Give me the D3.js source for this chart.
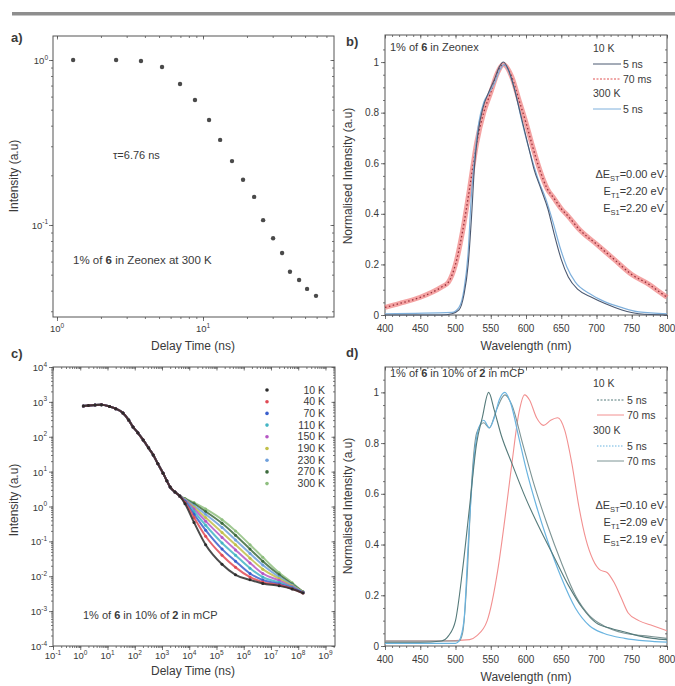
<!DOCTYPE html>
<html>
<head>
<meta charset="utf-8">
<script src="https://cdnjs.cloudflare.com/ajax/libs/d3/7.8.5/d3.min.js"></script>
<style>
body { margin: 0; background: #fff; }
svg { display: block; font-family: "Liberation Sans", Arial, sans-serif; }
text { fill: #3a3a3a; }
.tick line { stroke: #555; }
</style>
</head>
<body>
<div id="fig"></div>
<script>
// ---------- data ----------
// a) decay, 1% of 6 in Zeonex at 300 K
var aTime = [1.29, 2.54, 3.76, 5.24, 6.96, 8.81, 11.0, 13.1, 15.8, 18.8, 22.4, 25.8, 30.2, 34.8, 39.4, 45.5, 51.6, 59.4];
var aInt  = [1.0, 1.0, 0.986, 0.907, 0.715, 0.572, 0.433, 0.328, 0.244, 0.188, 0.148, 0.107, 0.0831, 0.0676, 0.0521, 0.0464, 0.041, 0.0372];

// b) spectra, 1% of 6 in Zeonex
var bWl10K5ns  = [400, 480, 495, 505, 512, 518, 523, 527, 532, 539, 547, 555, 562, 568, 575, 583, 590, 597, 604, 611, 621, 631, 640, 650, 660, 674, 693, 712, 736, 760, 800];
var bInt10K5ns = [0, 0, 0.005, 0.02, 0.08, 0.2, 0.4, 0.59, 0.72, 0.82, 0.88, 0.93, 0.98, 1.0, 0.97, 0.9, 0.82, 0.74, 0.66, 0.58, 0.5, 0.42, 0.32, 0.22, 0.15, 0.1, 0.07, 0.045, 0.02, 0.005, 0];
var bWl300K5ns  = [400, 495, 505, 512, 518, 522, 527, 533, 540, 548, 556, 563, 569, 576, 585, 593, 600, 608, 618, 628, 638, 648, 658, 670, 690, 710, 735, 760, 800];
var bInt300K5ns = [0.005, 0.01, 0.03, 0.1, 0.25, 0.45, 0.62, 0.76, 0.84, 0.88, 0.92, 0.97, 0.99, 0.96, 0.88, 0.78, 0.7, 0.62, 0.53, 0.46, 0.37, 0.27, 0.19, 0.13, 0.085, 0.055, 0.03, 0.012, 0.005];
var bWl10K70ms  = [400, 420, 450, 480, 490, 500, 510, 520, 530, 540, 550, 560, 568, 580, 590, 600, 610, 620, 630, 640, 650, 660, 675, 700, 725, 750, 775, 790, 800];
var bInt10K70ms = [0.03, 0.045, 0.07, 0.11, 0.13, 0.2, 0.33, 0.5, 0.68, 0.8, 0.88, 0.96, 0.99, 0.94, 0.85, 0.76, 0.66, 0.57, 0.5, 0.46, 0.42, 0.39, 0.34, 0.28, 0.22, 0.16, 0.12, 0.09, 0.07];

// c) decays vs temperature, 1% of 6 in 10% of 2 in mCP
var cTemps  = ["10 K", "40 K", "70 K", "110 K", "150 K", "190 K", "230 K", "270 K", "300 K"];
var cColors = ["#2b2b2b", "#e04a55", "#3a5fcd", "#44b5c4", "#b657c4", "#c2c04a", "#6fa0dc", "#3d6b3d", "#8fbf7f"];
var cEarlyTime = [1.3, 2, 3.5, 6, 12, 20, 37, 60, 87, 130, 204, 320, 478, 700, 1100, 1500, 2000, 3000, 4500];
var cEarlyInt  = [760, 790, 820, 830, 740, 640, 480, 300, 190, 130, 81, 48, 30, 17, 9, 5.5, 3.6, 2.6, 2.0];
var cLateTime = [7e3, 1.5e4, 4e4, 1.6e5, 5e5, 1.7e6, 5e6, 2e7, 6e7, 1.5e8];
var cLate10K  = [1.2, 0.35, 0.08, 0.022, 0.011, 0.0079, 0.0062, 0.0053, 0.0043, 0.0033];
var cLate40K  = [1.3, 0.48, 0.14, 0.04, 0.018, 0.0095, 0.0068, 0.0056, 0.0044, 0.0033];
var cLate70K  = [1.4, 0.6, 0.21, 0.06, 0.027, 0.012, 0.0078, 0.006, 0.0046, 0.0034];
var cLate110K = [1.45, 0.72, 0.29, 0.09, 0.04, 0.017, 0.0095, 0.0066, 0.0048, 0.0034];
var cLate150K = [1.5, 0.85, 0.38, 0.13, 0.057, 0.024, 0.012, 0.0075, 0.005, 0.0034];
var cLate190K = [1.55, 0.95, 0.48, 0.18, 0.08, 0.033, 0.016, 0.0085, 0.0053, 0.0035];
var cLate230K = [1.6, 1.05, 0.6, 0.25, 0.11, 0.045, 0.021, 0.0095, 0.0056, 0.0035];
var cLate270K = [1.65, 1.2, 0.72, 0.33, 0.15, 0.06, 0.027, 0.011, 0.006, 0.0036];
var cLate300K = [1.7, 1.3, 0.85, 0.42, 0.2, 0.08, 0.035, 0.0126, 0.0065, 0.0035];

// d) spectra, 1% of 6 in 10% of 2 in mCP
var dWl10K5ns  = [400, 450, 480, 490, 500, 510, 520, 530, 538, 547, 555, 565, 580, 600, 620, 640, 660, 680, 700, 720, 740, 760, 780, 800];
var dInt10K5ns = [0.015, 0.015, 0.02, 0.04, 0.1, 0.3, 0.55, 0.8, 0.9, 1.0, 0.93, 0.83, 0.72, 0.58, 0.46, 0.35, 0.24, 0.15, 0.09, 0.07, 0.055, 0.04, 0.03, 0.025];
var dWl10K70ms  = [400, 480, 520, 530, 545, 560, 570, 580, 590, 598, 605, 615, 625, 635, 645, 655, 665, 675, 685, 695, 705, 715, 725, 735, 745, 760, 780, 800];
var dInt10K70ms = [0.02, 0.02, 0.025, 0.04, 0.1, 0.3, 0.5, 0.72, 0.92, 0.99, 0.97, 0.9, 0.87, 0.89, 0.9, 0.85, 0.72, 0.55, 0.42, 0.34, 0.3, 0.29, 0.25, 0.19, 0.13, 0.1, 0.08, 0.06];
var dWl300K5ns  = [400, 500, 505, 512, 518, 525, 532, 540, 548, 555, 562, 570, 578, 590, 600, 615, 630, 650, 670, 690, 710, 740, 770, 800];
var dInt300K5ns = [0.01, 0.01, 0.02, 0.1, 0.4, 0.7, 0.85, 0.89, 0.86, 0.9, 0.97, 1.0, 0.96, 0.82, 0.7, 0.55, 0.42, 0.27, 0.15, 0.08, 0.05, 0.03, 0.02, 0.015];
var dWl300K70ms  = [400, 505, 510, 517, 522, 530, 540, 548, 558, 570, 580, 595, 610, 630, 650, 670, 690, 710, 740, 770, 800];
var dInt300K70ms = [0.02, 0.02, 0.05, 0.3, 0.6, 0.84, 0.88, 0.86, 0.93, 0.99, 0.95, 0.8, 0.65, 0.48, 0.33, 0.2, 0.12, 0.08, 0.05, 0.04, 0.03];

// ---------- drawing ----------
var svg = d3.select("#fig").append("svg").attr("width", 675).attr("height", 686);

// gray rule at the top
svg.append("rect").attr("x", 12).attr("y", 12).attr("width", 663).attr("height", 3.5).attr("fill", "#8e8e8e");

function zip(xs, ys) {
    return xs.map(function (v, i) { return [v, ys[i]]; });
}

function logMinor(scale) {
    var d = scale.domain(), lo = Math.min(d[0], d[1]), hi = Math.max(d[0], d[1]);
    var out = [];
    for (var k = Math.floor(Math.log10(lo)); k <= Math.ceil(Math.log10(hi)); k++) {
        for (var m = 1; m < 10; m++) {
            var v = m * Math.pow(10, k);
            if (v >= lo && v <= hi) out.push(v);
        }
    }
    return out;
}

function tidy(g) {
    g.select(".domain").remove();
    g.selectAll(".tick line").attr("stroke", "#555").attr("stroke-width", 0.8);
}

// frame plus mirrored ticks on all four sides
function frame(x, y, xMaj, xMin, yMaj, yMin) {
    var x0 = x.range()[0], x1 = x.range()[1], yb = y.range()[0], yt = y.range()[1];
    svg.append("g").attr("transform", "translate(0," + yb + ")")
        .call(d3.axisBottom(x).tickValues(xMin).tickSize(2).tickFormat("")).call(tidy);
    svg.append("g").attr("transform", "translate(0," + yb + ")")
        .call(d3.axisBottom(x).tickValues(xMaj).tickSize(4).tickFormat("")).call(tidy);
    svg.append("g").attr("transform", "translate(0," + yt + ")")
        .call(d3.axisTop(x).tickValues(xMin).tickSize(-2).tickFormat("")).call(tidy);
    svg.append("g").attr("transform", "translate(0," + yt + ")")
        .call(d3.axisTop(x).tickValues(xMaj).tickSize(-3.5).tickFormat("")).call(tidy);
    svg.append("g").attr("transform", "translate(" + x0 + ",0)")
        .call(d3.axisLeft(y).tickValues(yMin).tickSize(2).tickFormat("")).call(tidy);
    svg.append("g").attr("transform", "translate(" + x0 + ",0)")
        .call(d3.axisLeft(y).tickValues(yMaj).tickSize(4).tickFormat("")).call(tidy);
    svg.append("g").attr("transform", "translate(" + x1 + ",0)")
        .call(d3.axisRight(y).tickValues(yMin).tickSize(-2).tickFormat("")).call(tidy);
    svg.append("g").attr("transform", "translate(" + x1 + ",0)")
        .call(d3.axisRight(y).tickValues(yMaj).tickSize(-3.5).tickFormat("")).call(tidy);
    svg.append("rect").attr("x", x0).attr("y", yt).attr("width", x1 - x0).attr("height", yb - yt)
        .attr("fill", "none").attr("stroke", "#555").attr("stroke-width", 1);
}

function powText(x, y, exp, anchor) {
    var t = svg.append("text").attr("x", x).attr("y", y).attr("text-anchor", anchor).attr("font-size", 9.5);
    t.append("tspan").text("10");
    t.append("tspan").attr("font-size", 6.5).attr("dy", -4.5).text(exp);
}

function plainText(x, y, s, size, anchor) {
    return svg.append("text").attr("x", x).attr("y", y).attr("font-size", size)
        .attr("text-anchor", anchor || "start").text(s);
}

function richText(x, y, parts, size, anchor) {
    // parts: [text, bold]
    var t = svg.append("text").attr("x", x).attr("y", y).attr("font-size", size).attr("text-anchor", anchor || "start");
    parts.forEach(function (p) {
        t.append("tspan").attr("font-weight", p[1] ? "bold" : null).text(p[0]);
    });
    return t;
}

function energyText(x, y, pre, sub, post) {
    var t = svg.append("text").attr("x", x).attr("y", y).attr("font-size", 11).attr("text-anchor", "end");
    t.append("tspan").text(pre);
    t.append("tspan").attr("font-size", 7.5).attr("dy", 2.5).text(sub);
    t.append("tspan").attr("dy", -2.5).text(post);
}

function yTitle(x, y, s) {
    svg.append("text").attr("transform", "translate(" + x + "," + y + ") rotate(-90)")
        .attr("text-anchor", "middle").attr("font-size", 12).text(s);
}

function panelTag(x, y, s) {
    svg.append("text").attr("x", x).attr("y", y).attr("font-size", 13).attr("font-weight", "bold").text(s);
}

// ===== panel a =====
var ax = d3.scaleLog().domain([0.939, 78.9]).range([53, 334]);
var ay = d3.scaleLog().domain([0.02769, 1.398]).range([317, 36]);
frame(ax, ay, [1, 10], logMinor(ax), [0.1, 1], logMinor(ay));
powText(ax(1), 332, "0", "middle");
powText(ax(10), 332, "1", "middle");
powText(48, ay(1) + 4, "0", "end");
powText(48, ay(0.1) + 4, "-1", "end");
svg.append("g").selectAll("circle").data(zip(aTime, aInt)).enter().append("circle")
    .attr("cx", function (d) { return ax(d[0]); })
    .attr("cy", function (d) { return ay(d[1]); })
    .attr("r", 2.2).attr("fill", "#4a4a4a");
plainText(113, 159, "\u03c4=6.76 ns", 11);
richText(73, 264, [["1% of ", 0], ["6", 1], [" in Zeonex at 300 K", 0]], 11.5);
yTitle(18, 176, "Intensity (a.u)");
plainText(193, 350, "Delay Time (ns)", 12, "middle");
panelTag(11, 42, "a)");

// ===== panel b =====
var bx = d3.scaleLinear().domain([400, 800]).range([385, 667]);
var by = d3.scaleLinear().domain([0, 1.107]).range([315, 35]);
frame(bx, by, d3.range(400, 801, 50), d3.range(400, 801, 10), d3.range(0, 1.01, 0.2), d3.range(0, 1.1, 0.05));
d3.range(400, 801, 50).forEach(function (v) { plainText(bx(v), 332, String(v), 10, "middle"); });
[0, 0.2, 0.4, 0.6, 0.8, 1].forEach(function (v) { plainText(379, by(v) + 3.5, String(v), 10, "end"); });

var bLine = function (x, y) {
    return d3.line().x(function (d) { return x(d[0]); }).y(function (d) { return y(d[1]); }).curve(d3.curveMonotoneX);
};
var lb = bLine(bx, by);
svg.append("path").datum(zip(bWl10K70ms, bInt10K70ms)).attr("d", lb)
    .attr("fill", "none").attr("stroke", "#f07c7c").attr("stroke-width", 5).attr("stroke-opacity", 0.7);
svg.append("path").datum(zip(bWl10K70ms, bInt10K70ms)).attr("d", lb)
    .attr("fill", "none").attr("stroke", "#9a2f3a").attr("stroke-width", 1.3).attr("stroke-dasharray", "1.5,2.5");
svg.append("path").datum(zip(bWl300K5ns, bInt300K5ns)).attr("d", lb)
    .attr("fill", "none").attr("stroke", "#7fb0dc").attr("stroke-width", 1.2);
svg.append("path").datum(zip(bWl10K5ns, bInt10K5ns)).attr("d", lb)
    .attr("fill", "none").attr("stroke", "#4b5870").attr("stroke-width", 1.1);

richText(390, 51, [["1% of ", 0], ["6", 1], [" in Zeonex", 0]], 11);
var bLegend = [
    { y: 64, label: "5 ns", color: "#4b5870", dash: null },
    { y: 79, label: "70 ms", color: "#e05050", dash: "2,1.5" },
    { y: 109, label: "5 ns", color: "#7fb0dc", dash: null }
];
plainText(593, 52, "10 K", 10.5);
plainText(593, 97, "300 K", 10.5);
bLegend.forEach(function (e) {
    svg.append("line").attr("x1", 593).attr("x2", 621).attr("y1", e.y).attr("y2", e.y)
        .attr("stroke", e.color).attr("stroke-width", 1).attr("stroke-dasharray", e.dash);
    plainText(623, e.y + 3.5, e.label, 10.5);
});
energyText(664, 178, "\u0394E", "ST", "=0.00 eV");
energyText(664, 195, "E", "T1", "=2.20 eV");
energyText(664, 212, "E", "S1", "=2.20 eV");
yTitle(352, 176, "Normalised Intensity (a.u)");
plainText(526, 350, "Wavelength (nm)", 12, "middle");
panelTag(346, 46, "b)");

// ===== panel c =====
var cx = d3.scaleLog().domain([0.1, Math.pow(10, 9.35)]).range([53, 335]);
var cy = d3.scaleLog().domain([1e-4, 1e4]).range([646, 367]);
var cMajX = d3.range(-1, 10).map(function (k) { return Math.pow(10, k); }).filter(function (v) { return v <= cx.domain()[1]; });
var cMajY = d3.range(-4, 5).map(function (k) { return Math.pow(10, k); });
frame(cx, cy, cMajX, logMinor(cx), cMajY, logMinor(cy));
d3.range(-1, 10).forEach(function (k) {
    var px = 53 + (k + 1) * (cx(10) - cx(1));
    powText(px, 659, String(k), "middle");
});
d3.range(-4, 5).forEach(function (k) { powText(47, cy(Math.pow(10, k)) + 4, String(k), "end"); });

var cLates = [cLate10K, cLate40K, cLate70K, cLate110K, cLate150K, cLate190K, cLate230K, cLate270K, cLate300K];
var lc = d3.line().x(function (d) { return cx(d[0]); }).y(function (d) { return cy(d[1]); }).curve(d3.curveMonotoneX);
// hot traces first so the cold (dark) ones sit on top of the shared early decay
d3.range(cLates.length - 1, -1, -1).forEach(function (i) {
    var pts = zip(cEarlyTime.concat(cLateTime), cEarlyInt.concat(cLates[i]));
    svg.append("path").datum(pts).attr("d", lc).attr("fill", "none")
        .attr("stroke", cColors[i]).attr("stroke-width", 2).attr("stroke-opacity", 0.85);
    svg.append("g").selectAll("circle").data(pts).enter().append("circle")
        .attr("cx", function (d) { return cx(d[0]); })
        .attr("cy", function (d) { return cy(d[1]); })
        .attr("r", 1.5).attr("fill", cColors[i]);
});
cTemps.forEach(function (t, i) {
    var yy = 390 + i * 11.7;
    svg.append("circle").attr("cx", 267).attr("cy", yy).attr("r", 1.8).attr("fill", cColors[i]);
    plainText(325, yy + 3.5, t, 10.5, "end");
});
richText(83, 619, [["1% of ", 0], ["6", 1], [" in 10% of ", 0], ["2", 1], [" in mCP", 0]], 11);
yTitle(18, 500, "Intensity (a.u)");
plainText(193, 675, "Delay Time (ns)", 12, "middle");
panelTag(11, 358, "c)");

// ===== panel d =====
var dx = d3.scaleLinear().domain([400, 800]).range([385, 667]);
var dy = d3.scaleLinear().domain([0, 1.1]).range([646, 367]);
frame(dx, dy, d3.range(400, 801, 50), d3.range(400, 801, 10), d3.range(0, 1.01, 0.2), d3.range(0, 1.1, 0.05));
d3.range(400, 801, 50).forEach(function (v) { plainText(dx(v), 663, String(v), 10, "middle"); });
[0, 0.2, 0.4, 0.6, 0.8, 1].forEach(function (v) { plainText(379, dy(v) + 3.5, String(v), 10, "end"); });

var ld = bLine(dx, dy);
var dSeries = [
    { pts: zip(dWl10K70ms, dInt10K70ms), color: "#f29090", w: 1.1 },
    { pts: zip(dWl300K70ms, dInt300K70ms), color: "#7d9494", w: 1.1 },
    { pts: zip(dWl300K5ns, dInt300K5ns), color: "#6ab4e0", w: 1.2 },
    { pts: zip(dWl10K5ns, dInt10K5ns), color: "#557a7a", w: 1.1 }
];
dSeries.forEach(function (s) {
    svg.append("path").datum(s.pts).attr("d", ld).attr("fill", "none")
        .attr("stroke", s.color).attr("stroke-width", s.w);
});
richText(390, 377, [["1% of ", 0], ["6", 1], [" in 10% of ", 0], ["2", 1], [" in mCP", 0]], 11);
plainText(593, 387, "10 K", 10.5);
plainText(593, 434, "300 K", 10.5);
var dLegend = [
    { y: 400, label: "5 ns", color: "#557a7a", dash: "2,1.5" },
    { y: 415, label: "70 ms", color: "#f29090", dash: null },
    { y: 446, label: "5 ns", color: "#6ab4e0", dash: "1.5,1.5" },
    { y: 461, label: "70 ms", color: "#7d9494", dash: null }
];
dLegend.forEach(function (e) {
    svg.append("line").attr("x1", 597).attr("x2", 624).attr("y1", e.y).attr("y2", e.y)
        .attr("stroke", e.color).attr("stroke-width", 1).attr("stroke-dasharray", e.dash);
    plainText(627, e.y + 3.5, e.label, 10.5);
});
energyText(664, 509, "\u0394E", "ST", "=0.10 eV");
energyText(664, 526, "E", "T1", "=2.09 eV");
energyText(664, 543, "E", "S1", "=2.19 eV");
yTitle(352, 506, "Normalised Intensity (a.u)");
plainText(526, 681, "Wavelength (nm)", 12, "middle");
panelTag(346, 357, "d)");
</script>
</body>
</html>
